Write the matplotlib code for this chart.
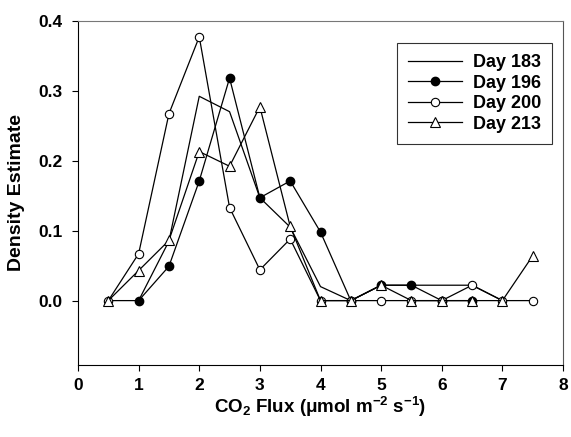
import numpy as np
import matplotlib.pyplot as plt

plt.rcParams['font.family'] = ['Liberation Sans', 'DejaVu Sans']
plt.rcParams['font.weight'] = 'bold'
plt.rcParams['mathtext.fontset'] = 'custom'
plt.rcParams['mathtext.rm'] = 'Liberation Sans:bold'
plt.rcParams['mathtext.it'] = 'Liberation Sans:bold'
plt.rcParams['mathtext.bf'] = 'Liberation Sans:bold'

# CO2 flux bins (umol m-2 s-1) and density estimates for each day
flux_183 = [0.5, 1.0, 1.5, 2.0, 2.5, 3.0, 3.5, 4.0, 4.5, 5.0, 5.5, 6.0, 6.5, 7.0]
dens_183 = [0.0, 0.0, 0.085, 0.292, 0.270, 0.147, 0.105, 0.020, 0.0, 0.022, 0.022, 0.022, 0.022, 0.0]

flux_196 = [1.0, 1.5, 2.0, 2.5, 3.0, 3.5, 4.0, 4.5, 5.0, 5.5, 6.0, 6.5]
dens_196 = [0.0, 0.049, 0.171, 0.318, 0.147, 0.171, 0.098, 0.0, 0.022, 0.022, 0.0, 0.0]

flux_200 = [0.5, 1.0, 1.5, 2.0, 2.5, 3.0, 3.5, 4.0, 4.5, 5.0, 5.5, 6.0, 6.5, 7.0, 7.5]
dens_200 = [0.0, 0.067, 0.267, 0.377, 0.133, 0.044, 0.088, 0.0, 0.0, 0.0, 0.0, 0.0, 0.022, 0.0, 0.0]

flux_213 = [0.5, 1.0, 1.5, 2.0, 2.5, 3.0, 3.5, 4.0, 4.5, 5.0, 5.5, 6.0, 6.5, 7.0, 7.5]
dens_213 = [0.0, 0.043, 0.086, 0.213, 0.192, 0.277, 0.106, 0.0, 0.0, 0.022, 0.0, 0.0, 0.0, 0.0, 0.064]

fig = plt.figure(figsize=(5.71, 4.37), dpi=100)
ax = fig.add_axes([0.1366, 0.1648, 0.8494, 0.7878])

lw = 0.9
ms = 6
ax.plot(flux_183, dens_183, color='black', lw=lw, label='Day 183')
ax.plot(flux_196, dens_196, color='black', lw=lw, marker='o', ms=ms,
        mfc='black', mec='black', label='Day 196')
ax.plot(flux_200, dens_200, color='black', lw=lw, marker='o', ms=ms,
        mfc='white', mec='black', mew=0.8, label='Day 200')
ax.plot(flux_213, dens_213, color='black', lw=lw, marker='^', ms=ms + 0.5,
        mfc='white', mec='black', mew=0.8, label='Day 213')

ax.set_xlim(0, 8)
ax.set_ylim(-0.092, 0.4)
ax.set_xticks(np.arange(0, 9, 1))
ax.set_yticks([0.0, 0.1, 0.2, 0.3, 0.4])
ax.set_yticklabels(['0.0', '0.1', '0.2', '0.3', '0.4'])
ax.tick_params(direction='out', length=4.3, width=0.8, labelsize=12.5)
ax.tick_params(axis='x', pad=5.4)
ax.tick_params(axis='y', pad=6.5)

for s in ax.spines.values():
    s.set_linewidth(0.8)
ax.spines['top'].set_color('#777777')
ax.spines['right'].set_color('#555555')

ax.set_xlabel(r'CO$_2$ Flux ($\mu$mol m$^{-2}$ s$^{-1}$)',
              fontsize=13.5, fontweight='bold', labelpad=1)
ax.set_ylabel('Density Estimate', fontsize=14, fontweight='bold', labelpad=10)

leg = ax.legend(loc='upper right', bbox_to_anchor=(0.977, 0.935), fontsize=13,
                handlelength=3.0, frameon=True, fancybox=False, edgecolor='black',
                borderpad=0.6, labelspacing=0.2, handletextpad=0.6,
                borderaxespad=0)
leg.get_frame().set_linewidth(0.8)

fig.savefig('out.png', dpi=100)
